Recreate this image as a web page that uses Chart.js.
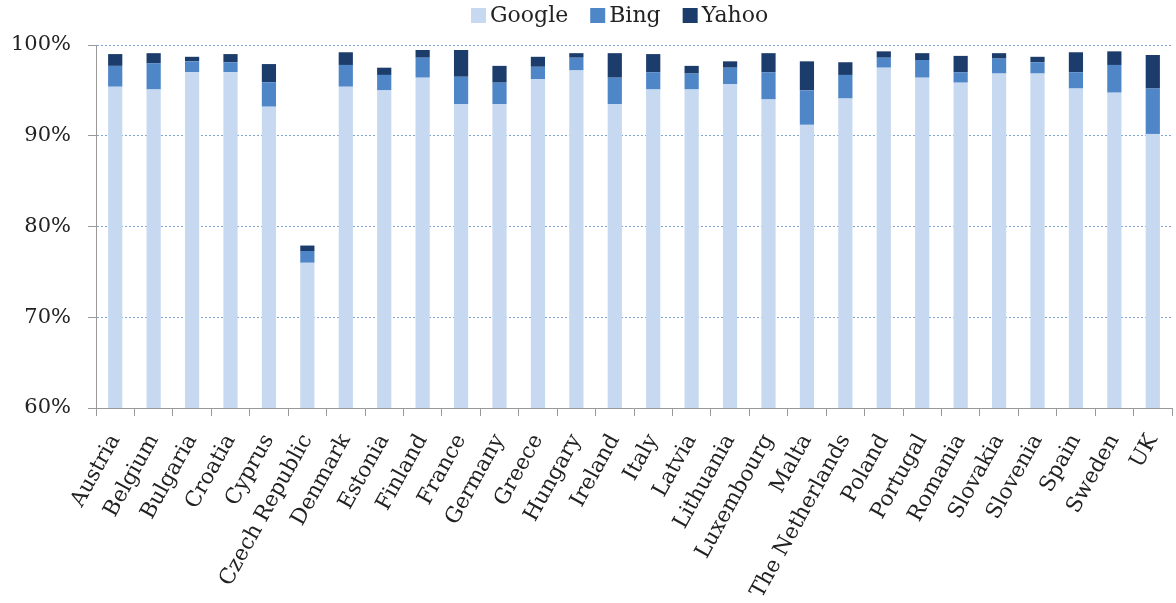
<!DOCTYPE html>
<html>
<head>
<meta charset="utf-8">
<script src="https://cdn.jsdelivr.net/npm/chart.js@4"></script>
<style>
html,body{margin:0;padding:0;background:#fff;}
#wrap{width:1176px;height:603px;}
</style>
</head>
<body>
<div id="wrap"><canvas id="c" width="1176" height="603"></canvas></div>
<script>
const countries = ["Austria","Belgium","Bulgaria","Croatia","Cyprus","Czech Republic","Denmark","Estonia","Finland","France","Germany","Greece","Hungary","Ireland","Italy","Latvia","Lithuania","Luxembourg","Malta","The Netherlands","Poland","Portugal","Romania","Slovakia","Slovenia","Spain","Sweden","UK"];
const google = [95.4,95.1,97.0,97.0,93.2,76.0,95.4,95.0,96.4,93.5,93.5,96.25,97.2,93.5,95.1,95.1,95.7,94.0,91.2,94.1,97.5,96.4,95.85,96.85,96.85,95.2,94.75,90.2];
const bing = [2.3,2.9,1.2,1.1,2.7,1.3,2.4,1.7,2.2,3.0,2.35,1.35,1.4,2.9,1.9,1.75,1.8,3.0,3.8,2.6,1.1,1.95,1.15,1.65,1.25,1.8,3.05,5.0];
const yahoo = [1.3,1.1,0.5,0.9,2.0,0.6,1.4,0.8,0.85,2.95,1.85,1.1,0.5,2.7,2.0,0.85,0.7,2.1,3.2,1.4,0.7,0.75,1.8,0.6,0.6,2.2,1.5,3.7];
const yTicks = [60,70,80,90,100];

const serif = "'DejaVu Serif', serif";
const common = {barPercentage:0.37, categoryPercentage:1.0, borderWidth:0};

const customLegend = {
  id:'customLegend',
  afterDraw(chart){
    const ctx = chart.ctx;
    ctx.save();
    ctx.font = "22px 'DejaVu Serif', serif";
    ctx.textBaseline = 'middle';
    ctx.textAlign = 'left';
    let x = 471;
    const yc = 15.5, box = 15, gapText = 4, gapItem = 22;
    chart.data.datasets.forEach(ds => {
      ctx.fillStyle = ds.backgroundColor;
      ctx.fillRect(x, yc - box/2, box, box);
      ctx.fillStyle = '#222';
      const tx = x + box + gapText;
      ctx.fillText(ds.label, tx, yc + 1);
      x = tx + ctx.measureText(ds.label).width + gapItem;
    });
    ctx.restore();
  }
};

new Chart(document.getElementById('c'), {
  type:'bar',
  data:{
    labels:countries,
    datasets:[
      Object.assign({label:'Google', data:google, backgroundColor:'#c6d9f1'}, common),
      Object.assign({label:'Bing', data:bing, backgroundColor:'#4f86c8'}, common),
      Object.assign({label:'Yahoo', data:yahoo, backgroundColor:'#1c3d6c'}, common)
    ]
  },
  options:{
    responsive:false,
    animation:false,
    layout:{padding:{top:45,right:4,left:0,bottom:0}},
    plugins:{
      legend:{display:false},
      tooltip:{enabled:false}
    },
    scales:{
      x:{
        stacked:true,
        grid:{drawOnChartArea:false,drawTicks:true,offset:true,tickLength:8,color:'#999'},
        border:{color:'#999',width:1},
        ticks:{font:{family:serif,size:21.5},color:'#222',minRotation:61,maxRotation:61,autoSkip:false,padding:14},
        afterFit:(s)=>{s.height=195; s.paddingLeft=0; s.paddingRight=0;}
      },
      y:{
        stacked:true,
        min:60,max:100,
        afterBuildTicks:(s)=>{s.ticks=yTicks.map(v=>({value:v}));},
        grid:{
          color:(ctx)=> (ctx.tick && ctx.tick.value===60) ? 'rgba(0,0,0,0)' : '#7fa3d3',
          tickColor:'#999',
          tickLength:8,
          tickBorderDash:[],
          lineWidth:1
        },
        border:{color:'#999',width:1,dash:[2,2]},
        ticks:{font:{family:serif,size:21},color:'#222',padding:17,callback:(v)=>v+'%'},
        afterFit:(s)=>{s.width=96;}
      }
    }
  },
  plugins:[customLegend]
});
</script>
</body>
</html>
